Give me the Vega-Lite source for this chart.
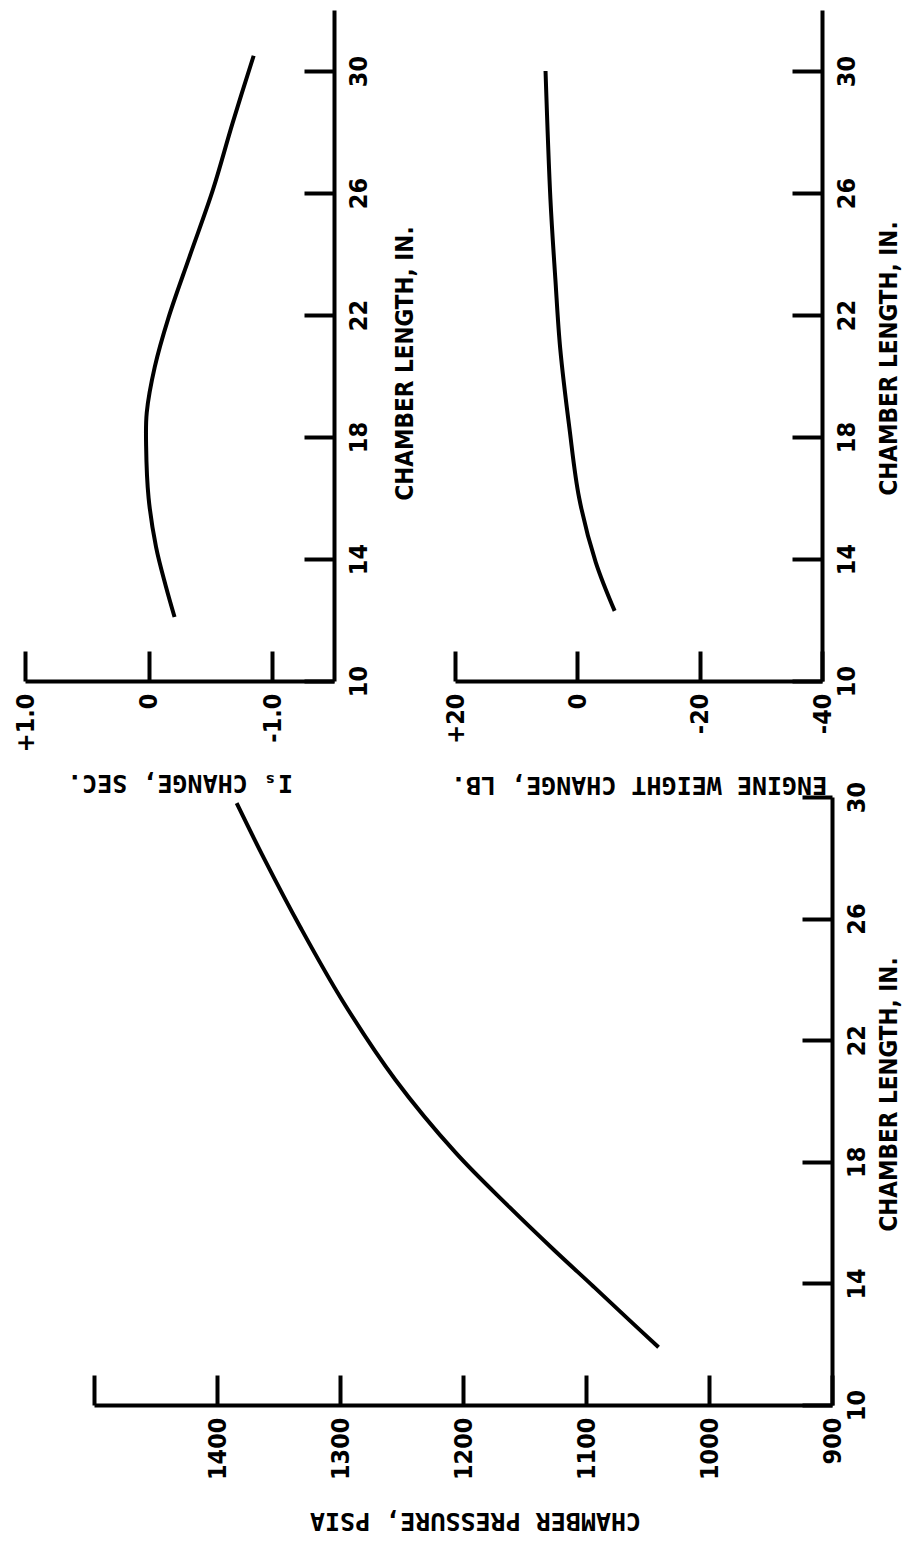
{
  "$schema": "https://vega.github.io/schema/vega-lite/v6.json",
  "autosize": {"type": "none"},
  "padding": {"left": 25, "top": 10, "right": 73, "bottom": 143},
  "width": 807,
  "height": 1395,
  "background": "white",
  "view": {"stroke": null},
  "config": {
    "axis": {
      "grid": false,
      "domainColor": "black",
      "domainWidth": 4,
      "tickColor": "black",
      "tickWidth": 4,
      "tickSize": -30,
      "labelFlush": false,
      "labelOverlap": false,
      "labelColor": "black",
      "labelFont": "DejaVu Sans Condensed, Liberation Sans Narrow, DejaVu Sans, sans-serif",
      "labelFontSize": 25,
      "labelFontWeight": "bold",
      "labelAngle": 270,
      "titleColor": "black",
      "titleFontWeight": "bold"
    }
  },
  "resolve": {"scale": {"x": "independent", "y": "independent"}, "axis": {"x": "independent", "y": "independent"}},
  "layer": [
    {
      "data": {"values": [
        {"L": 12.1, "Is": -0.21}, {"L": 13.1, "Is": -0.14}, {"L": 14.4, "Is": -0.06},
        {"L": 16.0, "Is": 0.0}, {"L": 17.7, "Is": 0.02}, {"L": 18.8, "Is": 0.015},
        {"L": 20.3, "Is": -0.05}, {"L": 21.9, "Is": -0.16}, {"L": 23.9, "Is": -0.33},
        {"L": 26.1, "Is": -0.52}, {"L": 28.3, "Is": -0.68}, {"L": 30.5, "Is": -0.85}
      ]},
      "mark": {"type": "line", "color": "black", "strokeWidth": 4, "interpolate": "catmull-rom"},
      "encoding": {
        "x": {"field": "Is", "type": "quantitative",
          "scale": {"domain": [-1.5, 1], "range": [309, 0], "zero": false, "nice": false},
          "axis": {"orient": "bottom", "offset": -724, "values": [-1, 0, 1],
            "labelExpr": "datum.value > 0 ? '+1.0' : (datum.value < 0 ? '-1.0' : '0')",
            "labelAlign": "right", "labelBaseline": "middle", "labelPadding": 42,
            "title": "Iₛ CHANGE, SEC.", "titleFont": "DejaVu Sans Mono, monospace", "titleFontSize": 25,
            "titleAngle": 180, "titleBaseline": "bottom", "titlePadding": 18}},
        "y": {"field": "L", "type": "quantitative",
          "scale": {"domain": [10, 32], "range": [671, 0], "zero": false, "nice": false},
          "axis": {"orient": "right", "offset": -498, "values": [10, 14, 18, 22, 26, 30],
            "labelAlign": "center", "labelBaseline": "top", "labelPadding": 42,
            "title": "CHAMBER LENGTH, IN.", "titleFont": "DejaVu Sans Condensed, Liberation Sans Narrow, DejaVu Sans, sans-serif",
            "titleFontSize": 24, "titleAngle": 270, "titleBaseline": "top", "titlePadding": 22, "titleY": 353}},
        "order": {"field": "L", "type": "quantitative"}
      }
    },
    {
      "data": {"values": [
        {"L": 12.3, "W": -6.1}, {"L": 13.9, "W": -3.0}, {"L": 16.0, "W": -0.3},
        {"L": 18.3, "W": 1.3}, {"L": 20.9, "W": 2.8}, {"L": 23.2, "W": 3.6},
        {"L": 25.8, "W": 4.4}, {"L": 30.0, "W": 5.2}
      ]},
      "mark": {"type": "line", "color": "black", "strokeWidth": 4, "interpolate": "catmull-rom"},
      "encoding": {
        "x": {"field": "W", "type": "quantitative",
          "scale": {"domain": [-40, 20], "range": [797, 430], "zero": false, "nice": false},
          "axis": {"orient": "bottom", "offset": -724, "values": [-40, -20, 0, 20],
            "labelExpr": "datum.value > 0 ? '+' + datum.value : (datum.value < 0 ? '-' + abs(datum.value) : '0')",
            "labelAlign": "right", "labelBaseline": "middle", "labelPadding": 42,
            "title": "ENGINE WEIGHT CHANGE, LB.", "titleFont": "DejaVu Sans Mono, monospace", "titleFontSize": 25,
            "titleAngle": 180, "titleBaseline": "bottom", "titlePadding": 28}},
        "y": {"field": "L", "type": "quantitative",
          "scale": {"domain": [10, 32], "range": [671, 0], "zero": false, "nice": false},
          "axis": {"orient": "right", "offset": -10, "values": [10, 14, 18, 22, 26, 30],
            "labelAlign": "center", "labelBaseline": "top", "labelPadding": 42,
            "title": "CHAMBER LENGTH, IN.", "titleFont": "DejaVu Sans Condensed, Liberation Sans Narrow, DejaVu Sans, sans-serif",
            "titleFontSize": 24, "titleAngle": 270, "titleBaseline": "top", "titlePadding": 18, "titleY": 348}},
        "order": {"field": "L", "type": "quantitative"}
      }
    },
    {
      "data": {"values": [
        {"L": 11.9, "P": 1041}, {"L": 12.8, "P": 1065}, {"L": 13.9, "P": 1094},
        {"L": 15.1, "P": 1126}, {"L": 16.5, "P": 1162}, {"L": 18.3, "P": 1206},
        {"L": 20.7, "P": 1255}, {"L": 23.3, "P": 1298}, {"L": 25.7, "P": 1332},
        {"L": 28.0, "P": 1362}, {"L": 29.8, "P": 1384}
      ]},
      "mark": {"type": "line", "color": "black", "strokeWidth": 4, "interpolate": "catmull-rom"},
      "encoding": {
        "x": {"field": "P", "type": "quantitative",
          "scale": {"domain": [900, 1500], "range": [807, 69], "zero": false, "nice": false},
          "axis": {"orient": "bottom", "offset": 0, "values": [900, 1000, 1100, 1200, 1300, 1400, 1500],
            "labelExpr": "datum.value >= 1500 ? '' : '' + datum.value",
            "labelAlign": "right", "labelBaseline": "middle", "labelPadding": 42,
            "title": "CHAMBER PRESSURE, PSIA", "titleFont": "DejaVu Sans Mono, monospace", "titleFontSize": 25,
            "titleAngle": 180, "titleBaseline": "bottom", "titlePadding": 28, "titleX": 450}},
        "y": {"field": "L", "type": "quantitative",
          "scale": {"domain": [10, 30], "range": [1395, 787], "zero": false, "nice": false},
          "axis": {"orient": "right", "offset": 0, "values": [10, 14, 18, 22, 26, 30],
            "labelAlign": "center", "labelBaseline": "top", "labelPadding": 42,
            "title": "CHAMBER LENGTH, IN.", "titleFont": "DejaVu Sans Condensed, Liberation Sans Narrow, DejaVu Sans, sans-serif",
            "titleFontSize": 24, "titleAngle": 270, "titleBaseline": "top", "titlePadding": 8, "titleY": 1084}},
        "order": {"field": "L", "type": "quantitative"}
      }
    }
  ]
}
